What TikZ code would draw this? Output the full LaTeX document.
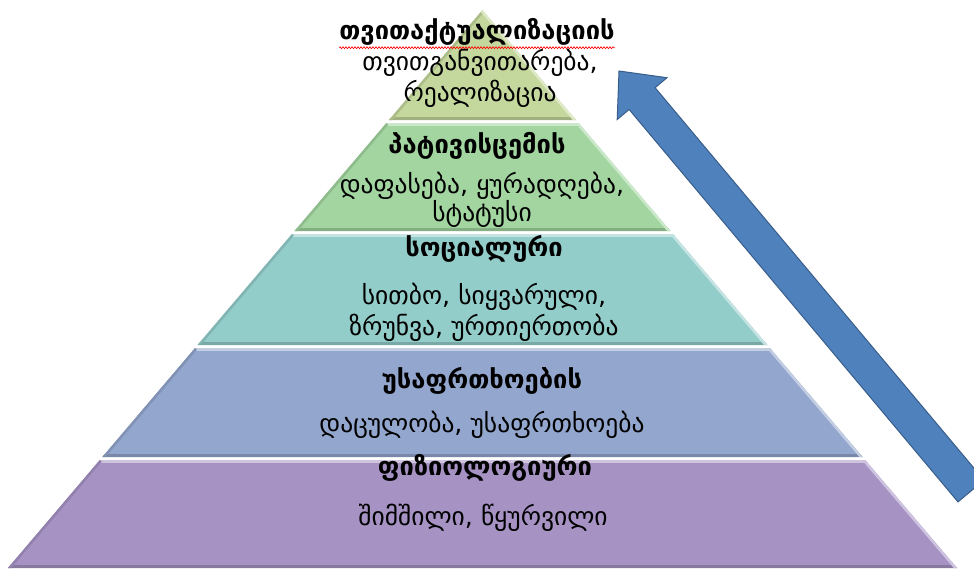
\documentclass[tikz,border=0pt]{standalone}
\usepackage{fontspec}
\setmainfont{DejaVu Sans}
\usetikzlibrary{decorations.pathmorphing}
\definecolor{lvlself}{HTML}{C4D79C}
\definecolor{lvlesteem}{HTML}{A2D5A0}
\definecolor{lvlsocial}{HTML}{93CDCA}
\definecolor{lvlsafety}{HTML}{93A6CD}
\definecolor{lvlphys}{HTML}{A693C4}
\definecolor{arrowblue}{HTML}{4F81BD}
\definecolor{arrowline}{HTML}{385D8A}
\tikzset{
  head/.style={font=\bfseries\fontsize{25.5}{30}\selectfont, inner sep=0pt},
  desc/.style={font=\fontsize{25.5}{31}\selectfont, align=center, inner sep=0pt},
  bigarrow/.style={fill=arrowblue, draw=arrowline, line width=1pt, line join=miter},
}

\begin{document}
\begin{tikzpicture}[x=1pt, y=-1pt]

  \useasboundingbox (0,0) rectangle (974,570);
  \clip (0,0) rectangle (974,570);

  \newcommand\pyrlevel[3]{% top y, bottom y, colour
    \begin{scope}
      \clip ({482.5-0.8504*(#1-10)}, #1) -- ({482.5+0.8504*(#1-10)}, #1)
        -- ({482.5+0.8504*(#2-10)}, #2) -- ({482.5-0.8504*(#2-10)}, #2) -- cycle;
      \fill[#3] (0,#1) rectangle (974,#2);
      \draw[#3!55!white, line width=6pt] (0,#1) -- (974,#1);
      \draw[#3!82!black, line width=6pt] (0,#2) -- (974,#2);
      \draw[#3!88!black, line width=5pt] ({482.5-0.8504*(#1-10)}, #1) -- ({482.5-0.8504*(#2-10)}, #2);
      \draw[#3!55!white, line width=5pt] ({482.5+0.8504*(#1-10)}, #1) -- ({482.5+0.8504*(#2-10)}, #2);
    \end{scope}}

  % pyramid, top to bottom
  \pyrlevel{10}{120}{lvlself}
  \pyrlevel{123}{231}{lvlesteem}
  \pyrlevel{234}{345}{lvlsocial}
  \pyrlevel{348}{457}{lvlsafety}
  \pyrlevel{460}{568}{lvlphys}

  % labels
  \node[head] (selfT) at (477,32) {თვითაქტუალიზაციის};
  \node[desc] (selfD) at (480,78) {თვითგანვითარება,\\რეალიზაცია};
  \draw[red, line width=0.6pt, decorate, decoration={snake, amplitude=1pt, segment length=3pt}]
    ([yshift=-2pt]selfT.south west) -- ([yshift=-2pt]selfT.south east);

  \node[head] (esteemT) at (477,146) {პატივისცემის};
  \node[desc, font=\fontsize{25.5}{28}\selectfont] (esteemD) at (482,200) {დაფასება, ყურადღება,\\სტატუსი};

  \node[head] (socialT) at (484,249) {სოციალური};
  \node[desc] (socialD) at (484,312) {სითბო, სიყვარული,\\ზრუნვა, ურთიერთობა};

  \node[head] (safetyT) at (482,381) {უსაფრთხოების};
  \node[desc] (safetyD) at (482,425) {დაცულობა, უსაფრთხოება};

  \node[head] (physT) at (485,468) {ფიზიოლოგიური};
  \node[desc] (physD) at (483,518) {შიმშილი, წყურვილი};

  % rising arrow
  \coordinate (tip) at (619,71);
  \coordinate (barbR) at (667,77.7);
  \coordinate (shaftR) at (655.1,87.7);
  \coordinate (tailR) at (984,480.1);
  \coordinate (tailL) at (958,501.9);
  \coordinate (shaftL) at (629.1,109.5);
  \coordinate (barbL) at (617.2,119.5);
  \draw[bigarrow] (tip) -- (barbR) -- (shaftR) -- (tailR) -- (tailL) -- (shaftL) -- (barbL) -- cycle;

\end{tikzpicture}
\end{document}
